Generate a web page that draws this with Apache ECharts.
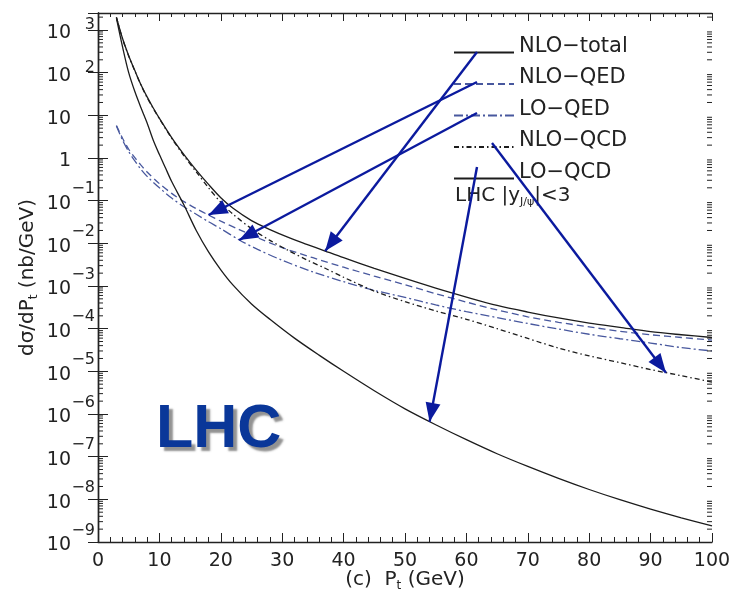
<!DOCTYPE html>
<html>
<head>
<meta charset="utf-8">
<script src="https://cdn.jsdelivr.net/npm/echarts@6/dist/echarts.min.js"></script>
<style>
  html, body { margin: 0; padding: 0; background: #ffffff; }
  #chart { width: 736px; height: 592px; }
</style>
</head>
<body>
<div id="chart"></div>
<script>
// Transverse-momentum grids (GeV)
const ptQCD = [3, 4, 5, 6, 7, 8, 9, 10, 12, 14, 16, 18, 20, 22, 25, 28, 31, 34, 37, 40,
               45, 50, 55, 60, 65, 70, 75, 80, 85, 90, 95, 100];
const ptQED = [3, 4, 5, 6, 7, 8, 10, 12, 14, 16, 18, 20, 23, 26, 30, 35, 40,
               45, 50, 55, 60, 65, 70, 75, 80, 85, 90, 95, 100];
const ptLOQCD = [3, 4, 5, 6, 7, 8, 9, 10, 11, 12, 14, 16, 18, 20, 22, 25, 28, 32, 36, 40,
                 45, 50, 55, 60, 65, 70, 75, 80, 85, 90, 95, 100];

// dσ/dPt (nb/GeV)
const nloTotal = [2000, 630, 250, 112, 52, 27, 14.8, 8.5, 3.0, 1.2, 0.52, 0.24, 0.117, 0.066,
                  0.034, 0.021, 0.0138, 0.0095, 0.0066, 0.0046,
                  0.0026, 0.0015, 8.9e-4, 5.5e-4, 3.5e-4, 2.45e-4, 1.78e-4, 1.35e-4, 1.07e-4, 8.5e-5, 7.2e-5, 6.2e-5];
const nloQCD = [1950, 620, 245, 110, 51, 26, 14.5, 8.3, 2.9, 1.12, 0.47, 0.20, 0.091, 0.048,
                0.022, 0.0117, 0.0068, 0.0041, 0.0026, 0.0016,
                7.6e-4, 4.3e-4, 2.6e-4, 1.66e-4, 1.0e-4, 5.9e-5, 3.5e-5, 2.3e-5, 1.6e-5, 1.1e-5, 7.9e-6, 5.6e-6];
const nloQED = [5.8, 2.9, 1.6, 1.02, 0.68, 0.47, 0.25, 0.148, 0.095, 0.065, 0.046, 0.033,
                0.021, 0.0135, 0.0079, 0.0046, 0.00275,
                0.0017, 0.00107, 6.6e-4, 4.2e-4, 2.75e-4, 1.9e-4, 1.41e-4, 1.1e-4, 8.7e-5, 7.2e-5, 6.2e-5, 5.4e-5];
const loQED = [5.6, 2.6, 1.41, 0.85, 0.54, 0.37, 0.20, 0.115, 0.072, 0.048, 0.032, 0.022,
               0.012, 0.0072, 0.0040, 0.00214, 0.00126,
               7.9e-4, 5.4e-4, 3.6e-4, 2.5e-4, 1.82e-4, 1.32e-4, 9.8e-5, 7.4e-5, 5.8e-5, 4.6e-5, 3.6e-5, 3.0e-5];
const loQCD = [1900, 400, 100, 36, 15, 6.6, 2.6, 1.2, 0.58, 0.28, 0.079, 0.020, 0.0063, 0.0024, 0.00105,
               3.8e-4, 1.66e-4, 6.0e-5, 2.4e-5, 1.0e-5,
               3.5e-6, 1.32e-6, 5.6e-7, 2.5e-7, 1.17e-7, 5.9e-8, 3.1e-8, 1.7e-8, 9.8e-9, 5.9e-9, 3.7e-9, 2.4e-9];

// Legend entries, in drawing order
const seriesNames = ['NLO\u2212total', 'NLO\u2212QED', 'LO\u2212QED', 'NLO\u2212QCD', 'LO\u2212QCD'];

// Axis ranges and tick labels
const xRange = [0, 100];
const xStep = 10;
const yRange = [1e-9, 2500];
const minorMantissas = [2, 3, 4, 5, 6, 7, 8, 9];

// Pointer arrows: tail sits on the legend sample, head lands on the curve (pt, dσ/dPt)
const arrowTails = [[477, 52], [477, 82], [477, 113], [492, 143], [477, 167]];
const arrowTips = [[37, 0.0066], [18, 0.046], [23, 0.012], [92.5, 9.3e-6], [54, 6.6e-7]];

const FONT = 'DejaVu Sans';
const INK = '#222222';
const BLACK = '#1c1c1c';
const BLUE = '#48589e';
const ARROW = '#0b1a9e';

const pairs = (xs, ys) => xs.map((x, i) => [x, ys[i]]);

// log-axis minor tick values (2..9 × 10^n) inside the y range
const minorTickValues = [];
for (let e = Math.round(Math.log10(yRange[0])); e <= Math.ceil(Math.log10(yRange[1])); e++) {
  minorMantissas.forEach(m => {
    const v = m * Math.pow(10, e);
    if (v > yRange[0] && v < yRange[1]) minorTickValues.push(v);
  });
}

// decade labels: "10" with a raised exponent, plain "1" and "10" for the first two decades
function yLabel(v) {
  const lg = Math.log10(v);
  const n = Math.round(lg);
  if (Math.abs(lg - n) > 1e-6) return '';
  if (n === 0) return '{b|1}{p| }';
  if (n === 1) return '{b|10}{p| }';
  if (n > 0) return '{b|10}{p|' + n + '}';
  return '{b|10}{n|\u2212' + (-n) + '}';
}

const curve = (name, xs, ys, color, dash, width) => ({
  type: 'line', name, data: pairs(xs, ys),
  xAxisIndex: 0, yAxisIndex: 0,
  symbol: 'none', smooth: 0.3, silent: true,
  lineStyle: { color, width, type: dash },
  itemStyle: { color },
  z: 3
});

const axisLine = { show: true, lineStyle: { color: INK, width: 1.4 } };

const option = {
  animation: false,
  backgroundColor: '#ffffff',
  grid: { left: 98, right: 24, top: 13, bottom: 50, containLabel: false, outerBoundsMode: 'none' },
  title: {
    text: 'LHC', left: 151, top: 395,
    textStyle: {
      fontFamily: 'Liberation Sans', fontWeight: 'bold', fontSize: 61, color: '#0a3799',
      textShadowColor: 'rgba(110,110,110,0.75)', textShadowOffsetX: 4, textShadowOffsetY: 4, textShadowBlur: 2
    }
  },
  legend: {
    orient: 'vertical', left: 453, top: 36, padding: 0,
    itemWidth: 60, itemHeight: 12, itemGap: -1.5,
    selectedMode: false,
    data: seriesNames,
    itemStyle: { opacity: 0 },
    formatter: name => '{t|' + name + '}',
    textStyle: {
      color: INK,
      rich: { t: { fontFamily: FONT, fontSize: 21, color: INK, lineHeight: 20, padding: [0, 0, 12, 0] } }
    }
  },
  xAxis: [{
    type: 'value', position: 'bottom', min: xRange[0], max: xRange[1], interval: xStep,
    axisLine,
    axisTick: { show: true, inside: true, length: 9, lineStyle: { color: INK, width: 1 } },
    minorTick: { show: true, splitNumber: 5, length: 5, lineStyle: { color: INK, width: 1 } },
    splitLine: { show: false },
    axisLabel: { margin: 9, fontFamily: FONT, fontSize: 19, color: INK, lineHeight: 20 },
    name: '(c)  P{s|t} (GeV)', nameLocation: 'middle', nameGap: 28, nameMoveOverlap: false,
    nameTextStyle: {
      fontFamily: FONT, fontSize: 20, color: INK, lineHeight: 20,
      rich: { s: { fontFamily: FONT, fontSize: 12, color: INK, lineHeight: 12, padding: [12, 0, 0, 0] } }
    }
  }, {
    type: 'value', position: 'top', min: xRange[0], max: xRange[1], interval: xStep,
    axisLine,
    axisTick: { show: true, inside: true, length: 8, lineStyle: { color: INK, width: 1 } },
    minorTick: { show: true, splitNumber: 5, length: 4, lineStyle: { color: INK, width: 1 } },
    splitLine: { show: false },
    axisLabel: { show: false }
  }],
  yAxis: [{
    type: 'log', logBase: 10, position: 'left', min: yRange[0], max: yRange[1], interval: 1, splitNumber: 12,
    axisLine,
    axisTick: { show: true, inside: true, length: 10, lineStyle: { color: INK, width: 1 } },
    splitLine: { show: false },
    axisLabel: {
      margin: 3, formatter: yLabel, color: INK, showMinLabel: true,
      rich: {
        b: { fontFamily: FONT, fontSize: 19, color: INK, lineHeight: 26, verticalAlign: 'bottom' },
        p: { fontFamily: FONT, fontSize: 16, color: INK, lineHeight: 16, width: 24, align: 'right', padding: [0, 0, 10, 0], verticalAlign: 'bottom' },
        n: { fontFamily: FONT, fontSize: 16, color: INK, lineHeight: 16, width: 24, align: 'right', padding: [0, 0, 16.5, 0], verticalAlign: 'bottom' }
      }
    },
    name: '{a|d\u03c3/dP}{s|t}{a| (nb/GeV)}', nameLocation: 'middle', nameGap: 59, nameMoveOverlap: false,
    nameTextStyle: {
      color: INK,
      rich: {
        a: { fontFamily: FONT, fontSize: 20, color: INK, lineHeight: 22 },
        s: { fontFamily: FONT, fontSize: 12, color: INK, lineHeight: 12, padding: [12, 0, 0, 0] }
      }
    }
  }, {
    type: 'log', logBase: 10, position: 'right', min: yRange[0], max: yRange[1], interval: 1, splitNumber: 12,
    axisLine,
    axisTick: { show: true, inside: true, length: 10, lineStyle: { color: INK, width: 1 } },
    splitLine: { show: false },
    axisLabel: { show: false }
  }],
  graphic: [{
    type: 'text', left: 455, top: 184, silent: true,
    style: {
      text: '{a|LHC |y}{s|J/\u03c8}{a||<3}',
      fill: INK,
      rich: {
        a: { fontFamily: FONT, fontSize: 20, fill: INK, lineHeight: 22 },
        s: { fontFamily: FONT, fontSize: 11, fill: INK, lineHeight: 11, padding: [13, 0, 0, 0] }
      }
    }
  }],
  series: [
    curve(seriesNames[0], ptQCD, nloTotal, BLACK, 'solid', 1.3),
    curve(seriesNames[1], ptQED, nloQED, BLUE, [7, 4], 1.3),
    curve(seriesNames[2], ptQED, loQED, BLUE, [9, 3, 2, 3], 1.3),
    curve(seriesNames[3], ptQCD, nloQCD, BLACK, [5, 3, 1.5, 3], 1.3),
    curve(seriesNames[4], ptLOQCD, loQCD, BLACK, 'solid', 1.3),
    {
      // logarithmic minor ticks on the left and right frame edges
      type: 'custom', name: 'logMinorTicks', silent: true, z: 4,
      xAxisIndex: 0, yAxisIndex: 0,
      data: minorTickValues.map(v => [xRange[0], v]),
      encode: { x: 0, y: 1 },
      renderItem: (params, api) => {
        const v = api.value(1);
        const l = api.coord([xRange[0], v]);
        const r = api.coord([xRange[1], v]);
        return {
          type: 'group',
          children: [
            { type: 'line', shape: { x1: l[0], y1: l[1], x2: l[0] + 5, y2: l[1] }, style: { stroke: INK, lineWidth: 1 } },
            { type: 'line', shape: { x1: r[0], y1: r[1], x2: r[0] - 5, y2: r[1] }, style: { stroke: INK, lineWidth: 1 } }
          ]
        };
      }
    },
    {
      // pointers from each legend sample to its curve
      type: 'line', name: 'pointers', data: [], silent: true,
      xAxisIndex: 0, yAxisIndex: 0, z: 6,
      markLine: {
        silent: true, animation: false,
        symbol: ['none', 'path://M5,0M5,18L10,36L0,36Z'],
        symbolSize: [15, 38],
        label: { show: false },
        lineStyle: { color: ARROW, width: 2.4, type: 'solid' },
        emphasis: { disabled: true },
        data: arrowTails.map((t, i) => [{ x: t[0], y: t[1] }, { coord: arrowTips[i] }])
      }
    }
  ]
};

const chart = echarts.init(document.getElementById('chart'));
chart.setOption(option);
</script>
</body>
</html>
